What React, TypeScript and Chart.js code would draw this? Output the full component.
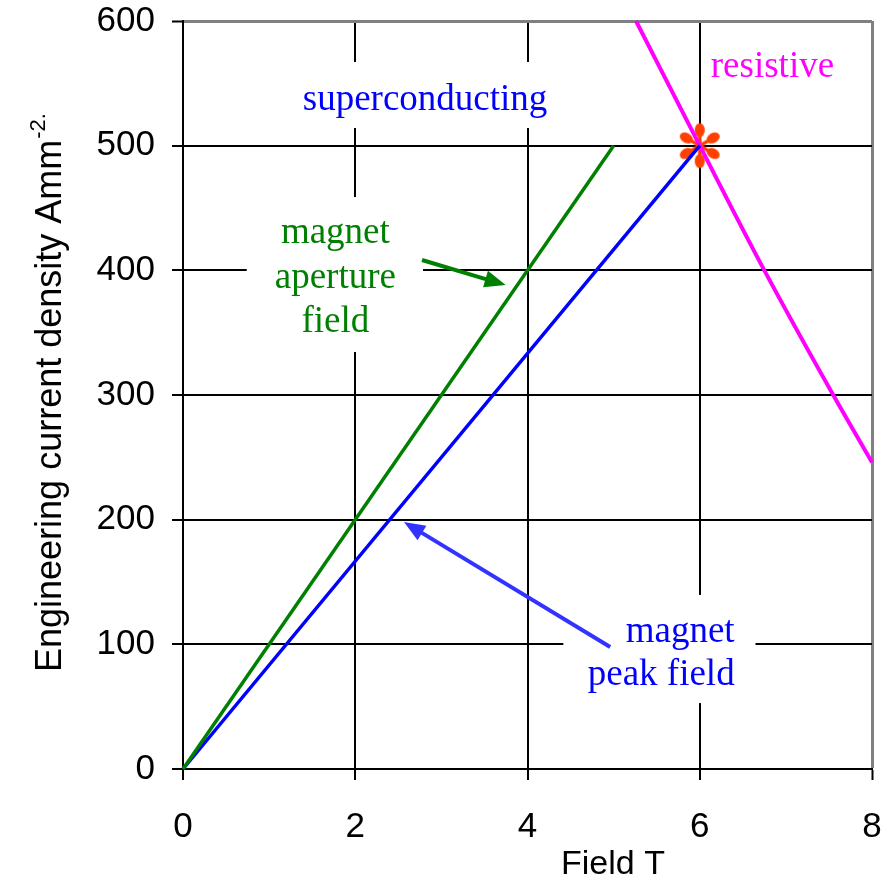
import React, { useEffect, useRef } from 'react';
import { Chart, registerables } from 'chart.js';

Chart.register(...registerables);

// ---- data ----
const apertureField = [0, 5];
const apertureJ = [0, 500];
const peakField = [0, 6];
const peakJ = [0, 500];
const resistiveField = [5.26, 6, 6.75, 7.55, 8];
const resistiveJ = [600, 500, 400, 300, 246];
const operatingField = [6];
const operatingJ = [500];

const xMin = 0, xMax = 8, xStep = 2;
const yMin = 0, yMax = 600, yStep = 100;

const xTitle = 'Field T';
const yTitle = 'Engineering current density Amm';
const yTitleSup = '-2.';

// ---- annotations (in data units) ----
const boxes = [
  { x0: 1.295, x1: 4.36, y0: 514.2, y1: 567.1 },
  { x0: 0.74, x1: 2.786, y0: 334.5, y1: 458.8 },
  { x0: 4.416, x1: 6.647, y0: 52.9, y1: 139.6 },
];
const labels = [
  { lines: ['superconducting'], x: 2.81, ys: [528.6], align: 'center', color: '#0000ff' },
  { lines: ['resistive'], x: 6.844, ys: [555.1], align: 'center', color: '#ff00ff' },
  { lines: ['magnet', 'aperture', 'field'], x: 1.769, ys: [421.9, 385.8, 350.5], align: 'center', color: '#008000' },
  { lines: ['magnet', 'peak field'], x: 6.405, ys: [101.9, 67.4], align: 'right', color: '#0000ff' },
];
const arrows = [
  { from: [2.775, 408.3], to: [3.746, 388.2], color: '#008000' },
  { from: [4.96, 97.9], to: [2.566, 198.1], color: '#3333ff' },
];

const SANS = '"Liberation Sans", Arial, sans-serif';
const SERIF = '"Liberation Serif", "Times New Roman", serif';

function makeStar(color: string) {
  const c = document.createElement('canvas');
  c.width = 50;
  c.height = 50;
  const g = c.getContext('2d')!;
  g.translate(25, 25);
  g.fillStyle = color;
  g.strokeStyle = color;
  g.lineWidth = 3.5;
  g.lineCap = 'round';
  for (let k = 0; k < 6; k++) {
    const a = Math.PI / 2 + (k * Math.PI) / 3;
    const dx = Math.cos(a), dy = Math.sin(a);
    g.beginPath();
    g.moveTo(0, 0);
    g.lineTo(dx * 14, dy * 14);
    g.stroke();
    g.beginPath();
    g.ellipse(dx * 15.5, dy * 15.5, 7, 5, a, 0, Math.PI * 2);
    g.fill();
  }
  return c;
}

const annotationPlugin = {
  id: 'annotations',
  beforeDatasetsDraw(chart: any) {
    const { ctx, scales } = chart;
    const x = scales.x, y = scales.y;
    ctx.save();
    ctx.fillStyle = '#ffffff';
    for (const b of boxes) {
      const px0 = x.getPixelForValue(b.x0), px1 = x.getPixelForValue(b.x1);
      const py0 = y.getPixelForValue(b.y1), py1 = y.getPixelForValue(b.y0);
      ctx.fillRect(px0, py0, px1 - px0, py1 - py0);
    }
    ctx.restore();
  },
  afterDatasetsDraw(chart: any) {
    const { ctx, scales } = chart;
    const x = scales.x, y = scales.y;
    ctx.save();
    ctx.font = `37px ${SERIF}`;
    ctx.textBaseline = 'alphabetic';
    for (const l of labels) {
      ctx.fillStyle = l.color;
      ctx.textAlign = l.align as CanvasTextAlign;
      l.lines.forEach((t, i) => {
        ctx.fillText(t, x.getPixelForValue(l.x), y.getPixelForValue(l.ys[i]));
      });
    }
    for (const a of arrows) {
      const x0 = x.getPixelForValue(a.from[0]), y0 = y.getPixelForValue(a.from[1]);
      const x1 = x.getPixelForValue(a.to[0]), y1 = y.getPixelForValue(a.to[1]);
      const ang = Math.atan2(y1 - y0, x1 - x0);
      const hl = 21, hw = 8.5;
      const bx = x1 - Math.cos(ang) * hl, by = y1 - Math.sin(ang) * hl;
      ctx.strokeStyle = a.color;
      ctx.fillStyle = a.color;
      ctx.lineWidth = 4;
      ctx.lineCap = 'butt';
      ctx.beginPath();
      ctx.moveTo(x0, y0);
      ctx.lineTo(bx + Math.cos(ang) * 2, by + Math.sin(ang) * 2);
      ctx.stroke();
      ctx.beginPath();
      ctx.moveTo(x1, y1);
      ctx.lineTo(bx - Math.sin(ang) * hw, by + Math.cos(ang) * hw);
      ctx.lineTo(bx + Math.sin(ang) * hw, by - Math.cos(ang) * hw);
      ctx.closePath();
      ctx.fill();
    }
    ctx.restore();
  },
  afterDraw(chart: any) {
    const { ctx } = chart;
    ctx.save();
    ctx.fillStyle = '#000000';
    ctx.textBaseline = 'alphabetic';
    ctx.textAlign = 'center';
    ctx.font = `34px ${SANS}`;
    ctx.fillText(xTitle, 613, 874);
    ctx.translate(61, 672);
    ctx.rotate(-Math.PI / 2);
    ctx.textAlign = 'left';
    ctx.font = `36px ${SANS}`;
    ctx.fillText(yTitle, 0, 0);
    const w = ctx.measureText(yTitle).width;
    ctx.font = `22px ${SANS}`;
    ctx.fillText(yTitleSup, w + 1, -16);
    ctx.restore();
  },
};

const noPad = (s: any) => {
  s.paddingTop = 0;
  s.paddingBottom = 0;
  s.paddingLeft = 0;
  s.paddingRight = 0;
};

export default function App() {
  const ref = useRef<HTMLCanvasElement>(null);
  useEffect(() => {
    if (!ref.current) return;
    const pts = (xs: number[], ys: number[]) => xs.map((v, i) => ({ x: v, y: ys[i] }));
    const chart = new Chart(ref.current, {
      type: 'scatter',
      data: {
        datasets: [
          {
            label: 'magnet aperture field',
            data: pts(apertureField, apertureJ),
            showLine: true,
            borderColor: '#008000',
            borderWidth: 3.5,
            pointRadius: 0,
          },
          {
            label: 'magnet peak field',
            data: pts(peakField, peakJ),
            showLine: true,
            borderColor: '#0000ff',
            borderWidth: 3.5,
            pointRadius: 0,
          },
          {
            label: 'resistive',
            data: pts(resistiveField, resistiveJ),
            showLine: true,
            borderColor: '#ff00ff',
            borderWidth: 4,
            pointRadius: 0,
            cubicInterpolationMode: 'monotone',
          },
          {
            label: 'operating point',
            data: pts(operatingField, operatingJ),
            showLine: false,
            pointStyle: makeStar('#ff4000') as any,
            pointRadius: 20,
          },
        ],
      },
      options: {
        animation: false,
        responsive: false,
        devicePixelRatio: 1,
        clip: false as any,
        layout: { padding: { top: 21, right: 16, left: 0, bottom: 0 } },
        plugins: { legend: { display: false }, tooltip: { enabled: false }, title: { display: false } },
        scales: {
          x: {
            type: 'linear',
            min: xMin,
            max: xMax,
            ticks: { stepSize: xStep, color: '#000', font: { family: SANS, size: 35 }, padding: 26, maxRotation: 0 },
            grid: {
              color: (c: any) => (c.tick && c.tick.value === xMax ? '#808080' : '#000000'),
              lineWidth: (c: any) => (c.tick && c.tick.value === xMax ? 3 : 2),
              tickColor: '#000000',
              tickWidth: 2,
              tickLength: 11,
            },
            border: { color: '#000000', width: 2 },
            afterFit: (s: any) => {
              s.height = 113;
              noPad(s);
            },
          },
          y: {
            type: 'linear',
            min: yMin,
            max: yMax,
            ticks: { stepSize: yStep, color: '#000', font: { family: SANS, size: 35 }, padding: 17 },
            grid: {
              color: (c: any) => (c.tick && c.tick.value === yMax ? '#808080' : '#000000'),
              lineWidth: (c: any) => (c.tick && c.tick.value === yMax ? 3 : 2),
              tickColor: '#000000',
              tickWidth: 2,
              tickLength: 11,
            },
            border: { color: '#000000', width: 2 },
            afterFit: (s: any) => {
              s.width = 183;
              noPad(s);
            },
          },
        },
      },
      plugins: [annotationPlugin],
    });
    return () => chart.destroy();
  }, []);
  return (
    <div style={{ position: 'absolute', left: 0, top: 0, width: 893, height: 882, background: '#fff' }}>
      <canvas ref={ref} width={893} height={882} style={{ width: 893, height: 882, display: 'block' }} />
    </div>
  );
}
